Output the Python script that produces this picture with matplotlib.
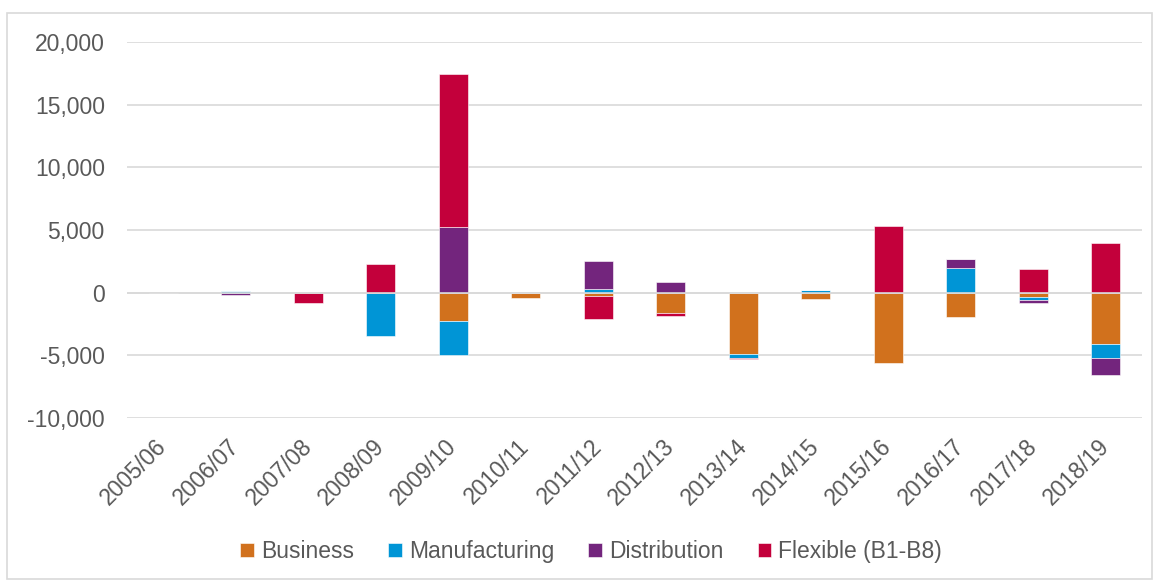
import numpy as np
import matplotlib.pyplot as plt
from matplotlib.ticker import FuncFormatter
from matplotlib.patches import Rectangle

plt.rcParams['font.family'] = ['Liberation Sans', 'DejaVu Sans']

years = ["2005/06", "2006/07", "2007/08", "2008/09", "2009/10", "2010/11", "2011/12",
         "2012/13", "2013/14", "2014/15", "2015/16", "2016/17", "2017/18", "2018/19"]

business = [0, 0, -60, 0, -2250, -400, -290, -1600, -4900, -500, -5600, -1950, -350, -4100]
manufacturing = [0, 150, 0, -3450, -2750, 0, 320, 0, -280, 210, 0, 2000, -230, -1100]
distribution = [0, -150, 0, 0, 5250, 0, 2200, 880, 0, 0, 0, 700, -270, -1400]
flexible = [0, 0, -800, 2250, 12200, 0, -1840, -230, -100, 0, 5350, 0, 1900, 3950]

series = [("Business", business, "#D1711D"),
          ("Manufacturing", manufacturing, "#0095D6"),
          ("Distribution", distribution, "#73257D"),
          ("Flexible (B1-B8)", flexible, "#C3003B")]

fig = plt.figure(figsize=(11.59, 5.81), dpi=100)
ax = fig.add_axes([0.1096, 0.2806, 0.8757, 0.6471])

# frame around the whole chart
fig.patches.append(Rectangle((0.006, 0.004), 0.988, 0.974, transform=fig.transFigure,
                             fill=False, edgecolor="#D9D9D9", linewidth=1.2))

x = np.arange(len(years))
pos_base = np.zeros(len(years))
neg_base = np.zeros(len(years))
for name, vals, color in series:
    v = np.array(vals, dtype=float)
    base = np.where(v >= 0, pos_base, neg_base)
    ax.bar(x, v, 0.4, bottom=base, color=color, label=name, zorder=2,
           edgecolor="white", linewidth=0.4)
    pos_base += np.where(v > 0, v, 0)
    neg_base += np.where(v < 0, v, 0)

ax.set_xlim(-0.5, len(years) - 0.5)
ax.set_ylim(-10000, 20000)
ax.set_yticks(np.arange(-10000, 20001, 5000))
ax.yaxis.set_major_formatter(FuncFormatter(lambda v, p: f"{int(v):,}"))
ax.grid(axis="y", color="#D9D9D9", linewidth=1.2, zorder=1)
ax.axhline(0, color="#D9D9D9", linewidth=1.2, zorder=3)
for s in ax.spines.values():
    s.set_visible(False)
ax.tick_params(length=0, labelcolor="#595959", labelsize=16.5)
ax.tick_params(axis="y", pad=16)
ax.set_xticks(x)
ax.set_xticklabels(years, rotation=45, ha="right", va="center", rotation_mode="anchor")
ax.tick_params(axis="x", pad=18)

fig.legend(loc="center", bbox_to_anchor=(0.51, 0.051), ncol=4, frameon=False,
           fontsize=16.5, handlelength=0.6, handleheight=0.6, handletextpad=0.3,
           columnspacing=1.5, labelcolor="#595959")

fig.savefig("out.png", dpi=100)
